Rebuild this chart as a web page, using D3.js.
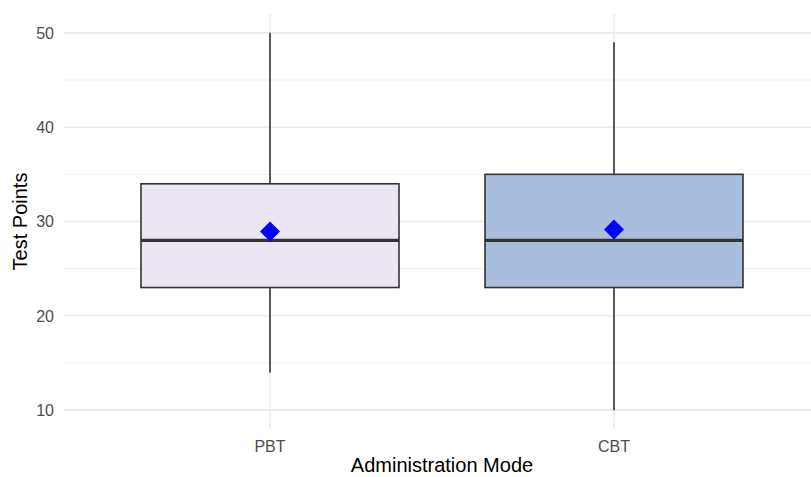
<!DOCTYPE html>
<html>
<head>
<meta charset="utf-8">
<script src="https://cdn.jsdelivr.net/npm/d3@7"></script>
<style>
  body { margin: 0; background: #fff; }
  text { font-family: "Liberation Sans", Arial, Helvetica, sans-serif; }
</style>
</head>
<body>
<div id="chart"></div>
<script>
// box stats
var modes = ['PBT', 'CBT'];
var mins = [14, 10];
var q1s = [23, 23];
var medians = [28, 28];
var q3s = [34, 35];
var maxs = [50, 49];
var means = [28.95, 29.15];
var fills = ['#ECE6F2', '#A8BEDC'];
var yTicks = [10, 20, 30, 40, 50];
var yMinor = [15, 25, 35, 45];

var width = 811, height = 477;
var svg = d3.select('#chart').append('svg')
    .attr('width', width)
    .attr('height', height);

// discrete axis like ggplot: positions 1,2 with 0.6 expansion
var x = d3.scaleLinear().domain([0.4, 2.6]).range([63.6, 820.4]);
var y = d3.scaleLinear().domain([8, 52]).range([429, 14]);

var grid = svg.append('g');
grid.selectAll('.minor')
    .data(yMinor)
    .enter().append('line')
    .attr('x1', x(0.4)).attr('x2', x(2.6))
    .attr('y1', function(d){ return y(d); })
    .attr('y2', function(d){ return y(d); })
    .attr('stroke', '#EBEBEB').attr('stroke-width', 0.8);
grid.selectAll('.major')
    .data(yTicks)
    .enter().append('line')
    .attr('x1', x(0.4)).attr('x2', x(2.6))
    .attr('y1', function(d){ return y(d); })
    .attr('y2', function(d){ return y(d); })
    .attr('stroke', '#EBEBEB').attr('stroke-width', 1.6);
grid.selectAll('.vmajor')
    .data(modes)
    .enter().append('line')
    .attr('x1', function(d, i){ return x(i + 1); })
    .attr('x2', function(d, i){ return x(i + 1); })
    .attr('y1', y(8)).attr('y2', y(52))
    .attr('stroke', '#EBEBEB').attr('stroke-width', 1.6);

var boxes = svg.selectAll('.box')
    .data(modes)
    .enter().append('g');

// whiskers
boxes.append('line')
    .attr('x1', function(d, i){ return x(i + 1); })
    .attr('x2', function(d, i){ return x(i + 1); })
    .attr('y1', function(d, i){ return y(maxs[i]); })
    .attr('y2', function(d, i){ return y(q3s[i]); })
    .attr('stroke', '#333').attr('stroke-width', 1.6);
boxes.append('line')
    .attr('x1', function(d, i){ return x(i + 1); })
    .attr('x2', function(d, i){ return x(i + 1); })
    .attr('y1', function(d, i){ return y(q1s[i]); })
    .attr('y2', function(d, i){ return y(mins[i]); })
    .attr('stroke', '#333').attr('stroke-width', 1.6);

boxes.append('rect')
    .attr('x', function(d, i){ return x(i + 1 - 0.375); })
    .attr('width', x(1.375) - x(0.625))
    .attr('y', function(d, i){ return y(q3s[i]); })
    .attr('height', function(d, i){ return y(q1s[i]) - y(q3s[i]); })
    .attr('fill', function(d, i){ return fills[i]; })
    .attr('stroke', '#333').attr('stroke-width', 1.6);

boxes.append('line')
    .attr('x1', function(d, i){ return x(i + 1 - 0.375); })
    .attr('x2', function(d, i){ return x(i + 1 + 0.375); })
    .attr('y1', function(d, i){ return y(medians[i]); })
    .attr('y2', function(d, i){ return y(medians[i]); })
    .attr('stroke', '#333').attr('stroke-width', 3.4);

// mean diamonds
boxes.append('path')
    .attr('d', 'M0,-10L10,0L0,10L-10,0Z')
    .attr('transform', function(d, i){
        return 'translate(' + x(i + 1) + ',' + y(means[i]) + ')';
    })
    .attr('fill', '#0000FF');

// tick labels
svg.selectAll('.ylab')
    .data(yTicks)
    .enter().append('text')
    .attr('x', 54)
    .attr('y', function(d){ return y(d); })
    .attr('dy', '0.36em')
    .attr('text-anchor', 'end')
    .attr('font-size', 16)
    .attr('fill', '#4D4D4D')
    .text(function(d){ return d; });

svg.selectAll('.xlab')
    .data(modes)
    .enter().append('text')
    .attr('x', function(d, i){ return x(i + 1); })
    .attr('y', 452)
    .attr('text-anchor', 'middle')
    .attr('font-size', 16)
    .attr('fill', '#4D4D4D')
    .text(function(d){ return d; });

// axis titles
svg.append('text')
    .attr('x', x(1.5))
    .attr('y', 472)
    .attr('text-anchor', 'middle')
    .attr('font-size', 20)
    .attr('fill', '#000')
    .text('Administration Mode');

svg.append('text')
    .attr('transform', 'translate(27,' + y(30) + ') rotate(-90)')
    .attr('text-anchor', 'middle')
    .attr('font-size', 20)
    .attr('fill', '#000')
    .text('Test Points');
</script>
</body>
</html>
